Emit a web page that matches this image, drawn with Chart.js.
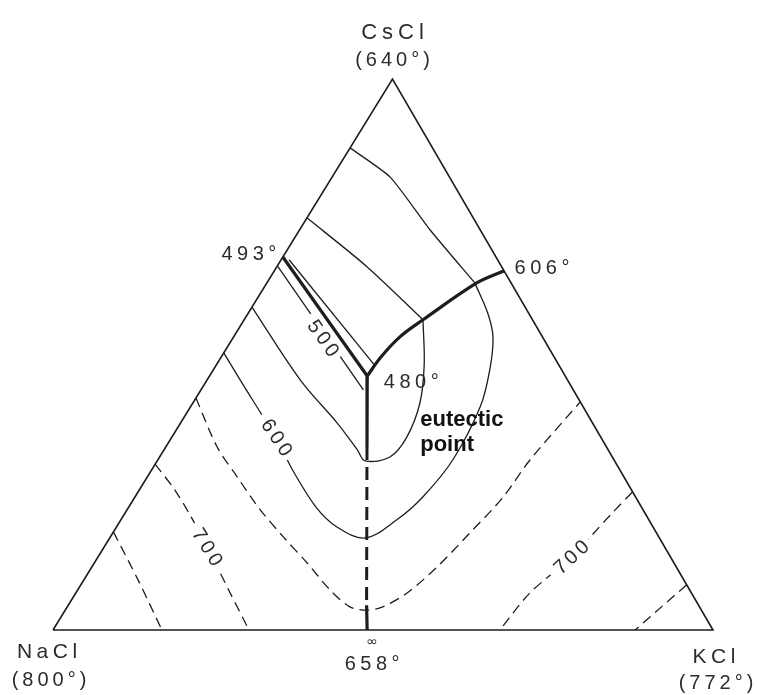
<html>
<head>
<script src="https://cdn.jsdelivr.net/npm/chart.js"></script>
<style>
  body { margin: 0; background: #fff; }
  #wrap { width: 757px; height: 695px; position: relative; }
</style>
<title>NaCl - KCl - CsCl</title>
</head>
<body>
<div id="wrap"><canvas id="ternary"></canvas></div>

<script>
// compositions are [mol% KCl, mol% CsCl]; NaCl is whatever is left
var vertexNames = ['NaCl', 'KCl', 'CsCl'];
var vertexTemps = ['(800°)', '(772°)', '(640°)'];
var triangle = [[0, 0], [100, 0], [0, 100], [0, 0]];

// binary eutectics on the edges and the ternary eutectic
var eutectic = [23.9, 46.1];
var pointLabels = ['493°', '606°', '658°', '480°'];
var binary493 = [0, 67.7];
var binary606 = [34.8, 65.2];
var binary658 = [47.6, 0];

// boundary curves between the primary fields
var valley493 = [[0, 67.7], [23.9, 46.1]];
var valley606 = [[34.8, 65.2], [31.8, 63.0], [27.1, 56.3], [25.2, 53.2], [24.2, 49.5], [23.9, 46.1]];
var valley658Top = [[23.9, 46.1], [30.5, 33.2]];
var valley658Mid = [[30.5, 33.2], [45.2, 4.5]];
var valley658Low = [[45.2, 4.5], [47.6, 0]];

// isotherms
var iso600Cs = [[0, 87.5], [8.8, 82.2], [19.8, 72.6], [31.5, 63.0]];
var iso550Cs = [[0, 74.8], [13.7, 65.9], [27.1, 56.3]];
var iso500Cs = [[1.2, 67.2], [24.2, 47.9]];
var iso500Na = [[0, 66.1], [24.6, 43.6]];
var iso550Loop = [[27.1, 56.3], [31.5, 48.1], [34.4, 41.2], [35.6, 35.0], [34.9, 31.4], [31.5, 30.7],
                  [29.3, 32.7], [23.7, 37.6], [14.1, 45.4], [0, 58.6]];
var iso600Loop = [[31.5, 63.0], [36.3, 57.5], [39.3, 53.2], [41.9, 47.2], [43.9, 40.5], [44.7, 30.9],
                  [43.6, 24.1], [41.8, 20.0], [38.7, 16.7], [33.4, 18.7], [28.6, 22.1], [21.4, 29.0],
                  [16.2, 34.5], [5.0, 45.4], [0, 50.3]];
var iso650 = [[0, 42.1], [7.8, 33.2], [13.6, 27.8], [20.2, 21.8], [26.2, 16.9], [32.2, 12.2], [38.2, 7.3],
              [42.8, 4.2], [45.7, 3.6], [47.8, 4.2], [50.2, 6.7], [52.3, 11.4], [54.1, 17.6], [55.8, 24.1],
              [56.4, 30.9], [58.6, 41.4]];
var iso700Na = [[0, 30.1], [5.4, 25.4], [10.0, 20.9], [15.6, 15.1], [23.4, 6.7], [29.7, 0]];
var iso700K = [[74.9, 25.0], [73.8, 21.2], [71.7, 13.2], [68.8, 6.7], [67.7, 0]];
var iso750Na = [[0, 17.8], [8.2, 9.1], [16.5, 0]];
var iso750K = [[91.8, 8.2], [88.2, 0]];

// isotherm numbers written along the curves
var isoTexts = ['500', '600', '700', '700'];
var isoAt = [[13.7, 53.0], [15.9, 35.0], [15.6, 15.1], [71.7, 13.2]];
var isoAngles = [55, 56, 58, -43];

var APEX = 0.5144;   // CsCl corner sits a bit right of the base midpoint
var INK = '#1d1d1d';
var TEXT = '#2c2c2c';

function toXY(p) {
  return { x: p[0] + APEX * p[1], y: p[1] };
}

function curve(points, width, dash, tension) {
  return {
    data: points.map(toXY),
    showLine: true,
    borderColor: INK,
    borderWidth: width,
    borderDash: dash || [],
    borderCapStyle: 'butt',
    pointRadius: 0,
    tension: tension || 0,
    fill: false
  };
}

var DASH = [10, 6];

var labelsPlugin = {
  id: 'ternaryLabels',
  afterDatasetsDraw: function(chart) {
    var ctx = chart.ctx;
    var sx = chart.scales.x, sy = chart.scales.y;
    function pix(p) {
      var q = toXY(p);
      return [sx.getPixelForValue(q.x), sy.getPixelForValue(q.y)];
    }
    function put(text, p, dx, dy, font, spacing) {
      var c = pix(p);
      ctx.save();
      ctx.font = font;
      ctx.letterSpacing = spacing + 'px';
      ctx.fillStyle = TEXT;
      ctx.textAlign = 'center';
      ctx.textBaseline = 'middle';
      ctx.fillText(text, c[0] + dx + spacing / 2, c[1] + dy);
      ctx.restore();
    }

    var big = '21px "Liberation Sans", Arial, sans-serif';
    var mid = '20px "Liberation Sans", Arial, sans-serif';

    // corners
    put(vertexNames[2], triangle[2], 0, -46, '22px "Liberation Sans", Arial, sans-serif', 5);
    put(vertexTemps[2], triangle[2], 0, -19, mid, 4);
    put(vertexNames[0], triangle[0], -6, 22, big, 4.5);
    put(vertexTemps[0], triangle[0], -4, 50, mid, 4);
    put(vertexNames[1], triangle[1], 1, 27, big, 4.5);
    put(vertexTemps[1], triangle[1], 3, 53, mid, 4);

    // eutectic temperatures
    put(pointLabels[0], binary493, -34, -2, mid, 4.5);
    put(pointLabels[1], binary606, 38, -2, mid, 4.5);
    put(pointLabels[2], binary658, 5, 34, mid, 4.5);
    put('∞', binary658, 5, 12, '14px "DejaVu Sans", sans-serif', 0);
    put(pointLabels[3], eutectic, 44, 6, mid, 4.5);

    var e = pix(eutectic);
    ctx.save();
    ctx.font = 'bold 22px "Liberation Sans", Arial, sans-serif';
    ctx.fillStyle = '#111';
    ctx.textAlign = 'left';
    ctx.textBaseline = 'middle';
    ctx.fillText('eutectic', e[0] + 53, e[1] + 44);
    ctx.fillText('point', e[0] + 53, e[1] + 69);
    ctx.restore();

    // isotherm numbers, knocked out of their curves
    for (var i = 0; i < isoTexts.length; i++) {
      var c = pix(isoAt[i]);
      ctx.save();
      ctx.translate(c[0], c[1]);
      ctx.rotate(isoAngles[i] * Math.PI / 180);
      ctx.font = '20px "Liberation Sans", Arial, sans-serif';
      ctx.letterSpacing = '3.5px';
      var w = ctx.measureText(isoTexts[i]).width;
      ctx.fillStyle = '#fff';
      ctx.fillRect(-w / 2 - 5, -9, w + 8, 18);
      ctx.fillStyle = TEXT;
      ctx.textAlign = 'center';
      ctx.textBaseline = 'middle';
      ctx.fillText(isoTexts[i], 2, 1);
      ctx.restore();
    }
  }
};

var chart = new Chart(document.getElementById('ternary'), {
  type: 'scatter',
  data: {
    datasets: [
      curve(triangle, 1.6),
      curve(iso600Cs, 1.3, null, 0.2),
      curve(iso550Cs, 1.3, null, 0.3),
      curve(iso500Cs, 1.3),
      curve(iso500Na, 1.3),
      curve(iso550Loop, 1.3, null, 0.35),
      curve(iso600Loop, 1.3, null, 0.35),
      curve(iso650, 1.3, DASH, 0.3),
      curve(iso700Na, 1.3, DASH, 0.3),
      curve(iso700K, 1.3, DASH, 0.3),
      curve(iso750Na, 1.3, DASH, 0.3),
      curve(iso750K, 1.3, DASH),
      curve(valley493, 3.2),
      curve(valley606, 3.2, null, 0.35),
      curve(valley658Top, 3.2),
      curve(valley658Mid, 3, [13, 7]),
      curve(valley658Low, 3.2)
    ]
  },
  options: {
    responsive: true,
    maintainAspectRatio: false,
    animation: false,
    events: [],
    layout: { padding: 0 },
    plugins: { legend: { display: false }, tooltip: { enabled: false } },
    scales: {
      x: { type: 'linear', display: false, min: -8.03, max: 106.67 },
      y: { type: 'linear', display: false, min: -11.80, max: 114.34 }
    }
  },
  plugins: [labelsPlugin]
});
</script>
</body>
</html>
